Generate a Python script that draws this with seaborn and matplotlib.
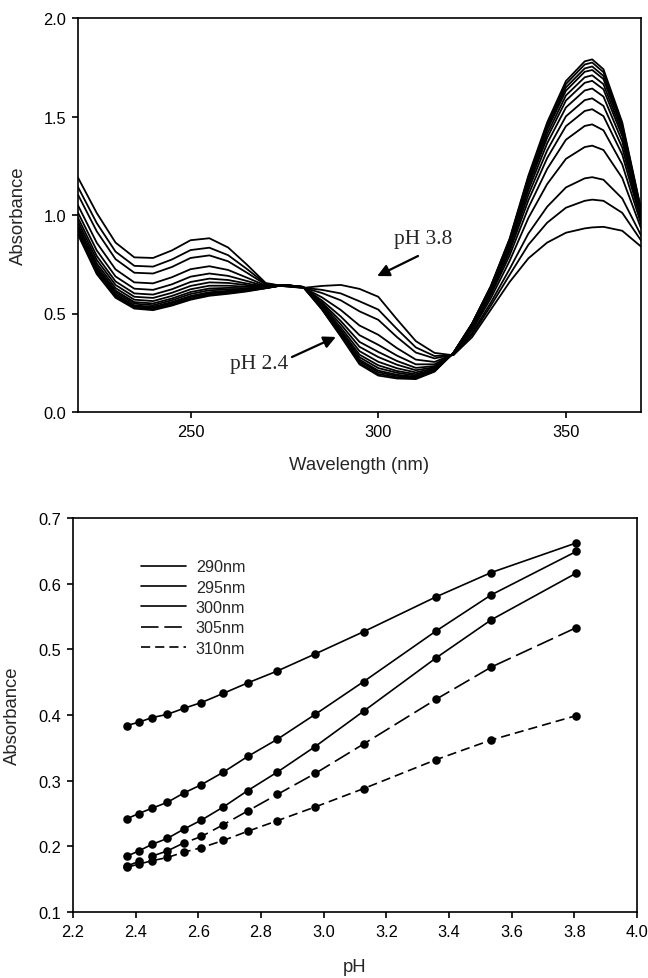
import matplotlib
matplotlib.use("Agg")
import numpy as np
import pandas as pd
import matplotlib.pyplot as plt
import seaborn as sns

# ---------------- top panel: UV spectra at different pH ----------------
wavelength = [220, 225, 230, 235, 240, 245, 250, 255, 260, 265, 270, 275, 280, 285,
              290, 295, 300, 305, 310, 315, 320, 325, 330, 335, 340, 345, 350, 355,
              357, 360, 365, 370]

spec_pH237 = [0.900, 0.700, 0.580, 0.525, 0.517, 0.540, 0.570, 0.590, 0.600, 0.612, 0.628, 0.645, 0.635, 0.520, 0.384, 0.242, 0.185, 0.170, 0.167, 0.205, 0.300, 0.450, 0.640, 0.880, 1.200, 1.470, 1.680, 1.780, 1.790, 1.740, 1.470, 1.030]
spec_pH241 = [0.906, 0.706, 0.585, 0.530, 0.522, 0.545, 0.576, 0.596, 0.604, 0.615, 0.629, 0.645, 0.635, 0.522, 0.389, 0.249, 0.193, 0.176, 0.171, 0.207, 0.300, 0.449, 0.638, 0.876, 1.192, 1.458, 1.665, 1.764, 1.774, 1.725, 1.460, 1.026]
spec_pH245 = [0.912, 0.713, 0.592, 0.536, 0.528, 0.552, 0.583, 0.602, 0.610, 0.618, 0.629, 0.645, 0.635, 0.525, 0.395, 0.258, 0.202, 0.183, 0.175, 0.209, 0.299, 0.447, 0.635, 0.871, 1.182, 1.444, 1.648, 1.744, 1.754, 1.706, 1.447, 1.022]
spec_pH250 = [0.918, 0.720, 0.598, 0.541, 0.534, 0.558, 0.589, 0.608, 0.615, 0.621, 0.630, 0.645, 0.635, 0.528, 0.400, 0.266, 0.210, 0.189, 0.179, 0.211, 0.299, 0.446, 0.632, 0.866, 1.174, 1.432, 1.631, 1.727, 1.736, 1.690, 1.435, 1.018]
spec_pH255 = [0.928, 0.729, 0.607, 0.550, 0.542, 0.567, 0.599, 0.618, 0.622, 0.625, 0.631, 0.644, 0.635, 0.531, 0.409, 0.278, 0.223, 0.199, 0.185, 0.214, 0.299, 0.443, 0.629, 0.859, 1.160, 1.412, 1.607, 1.699, 1.709, 1.664, 1.418, 1.012]
spec_pH261 = [0.937, 0.740, 0.616, 0.558, 0.551, 0.576, 0.609, 0.627, 0.630, 0.629, 0.632, 0.644, 0.634, 0.535, 0.417, 0.291, 0.237, 0.208, 0.192, 0.217, 0.298, 0.441, 0.625, 0.852, 1.146, 1.392, 1.581, 1.671, 1.681, 1.638, 1.400, 1.006]
spec_pH268 = [0.950, 0.754, 0.629, 0.570, 0.563, 0.589, 0.623, 0.641, 0.641, 0.636, 0.633, 0.644, 0.634, 0.541, 0.429, 0.309, 0.255, 0.222, 0.201, 0.222, 0.298, 0.438, 0.619, 0.842, 1.127, 1.364, 1.546, 1.632, 1.642, 1.601, 1.374, 0.997]
spec_pH276 = [0.967, 0.772, 0.645, 0.585, 0.579, 0.605, 0.640, 0.658, 0.655, 0.644, 0.634, 0.643, 0.634, 0.548, 0.445, 0.331, 0.279, 0.240, 0.212, 0.227, 0.297, 0.434, 0.612, 0.829, 1.103, 1.328, 1.501, 1.583, 1.592, 1.554, 1.342, 0.986]
spec_pH285 = [0.986, 0.792, 0.663, 0.602, 0.596, 0.623, 0.660, 0.677, 0.670, 0.652, 0.636, 0.643, 0.634, 0.556, 0.462, 0.356, 0.305, 0.259, 0.224, 0.233, 0.296, 0.429, 0.604, 0.815, 1.075, 1.289, 1.451, 1.528, 1.537, 1.502, 1.307, 0.974]
spec_pH297 = [1.012, 0.820, 0.688, 0.626, 0.620, 0.648, 0.687, 0.703, 0.691, 0.665, 0.638, 0.642, 0.633, 0.566, 0.485, 0.390, 0.341, 0.286, 0.242, 0.242, 0.295, 0.423, 0.594, 0.795, 1.037, 1.234, 1.382, 1.452, 1.460, 1.430, 1.257, 0.956]
spec_pH312 = [1.049, 0.859, 0.724, 0.658, 0.653, 0.684, 0.725, 0.740, 0.721, 0.682, 0.642, 0.641, 0.632, 0.582, 0.518, 0.439, 0.392, 0.324, 0.266, 0.254, 0.294, 0.414, 0.578, 0.767, 0.985, 1.157, 1.285, 1.345, 1.352, 1.330, 1.188, 0.933]
spec_pH336 = [1.103, 0.917, 0.776, 0.707, 0.703, 0.736, 0.782, 0.795, 0.765, 0.707, 0.647, 0.640, 0.631, 0.604, 0.567, 0.511, 0.468, 0.380, 0.302, 0.272, 0.292, 0.401, 0.556, 0.726, 0.906, 1.042, 1.140, 1.186, 1.192, 1.179, 1.084, 0.897]
spec_pH353 = [1.142, 0.959, 0.814, 0.742, 0.738, 0.774, 0.822, 0.834, 0.796, 0.726, 0.651, 0.639, 0.631, 0.620, 0.602, 0.562, 0.520, 0.421, 0.328, 0.284, 0.290, 0.392, 0.540, 0.696, 0.849, 0.961, 1.037, 1.072, 1.078, 1.072, 1.011, 0.871]
spec_pH380 = [1.190, 1.010, 0.860, 0.785, 0.782, 0.820, 0.872, 0.882, 0.835, 0.748, 0.655, 0.638, 0.630, 0.640, 0.645, 0.625, 0.585, 0.470, 0.360, 0.300, 0.288, 0.380, 0.520, 0.660, 0.780, 0.860, 0.910, 0.932, 0.937, 0.940, 0.920, 0.840]

spectra = {
    2.37: spec_pH237, 2.41: spec_pH241, 2.45: spec_pH245, 2.50: spec_pH250,
    2.55: spec_pH255, 2.61: spec_pH261, 2.68: spec_pH268, 2.76: spec_pH276,
    2.85: spec_pH285, 2.97: spec_pH297, 3.12: spec_pH312, 3.36: spec_pH336,
    3.53: spec_pH353, 3.80: spec_pH380,
}

# ---------------- bottom panel: absorbance vs pH ----------------
pH_values = [2.372, 2.410, 2.452, 2.501, 2.553, 2.610, 2.680, 2.758, 2.852, 2.973,
             3.128, 3.359, 3.535, 3.806]
abs_290 = [0.384, 0.389, 0.396, 0.401, 0.410, 0.419, 0.433, 0.449, 0.467, 0.493, 0.527, 0.580, 0.617, 0.662]
abs_295 = [0.242, 0.250, 0.258, 0.267, 0.281, 0.294, 0.313, 0.337, 0.363, 0.401, 0.451, 0.528, 0.583, 0.649]
abs_300 = [0.185, 0.193, 0.203, 0.212, 0.226, 0.240, 0.260, 0.285, 0.313, 0.352, 0.406, 0.487, 0.545, 0.616]
abs_305 = [0.170, 0.177, 0.185, 0.193, 0.205, 0.215, 0.233, 0.254, 0.279, 0.311, 0.356, 0.424, 0.473, 0.533]
abs_310 = [0.168, 0.173, 0.178, 0.183, 0.191, 0.198, 0.209, 0.223, 0.239, 0.260, 0.288, 0.332, 0.362, 0.399]
series_labels = ["290nm", "295nm", "300nm", "305nm", "310nm"]

# ---------------- styling ----------------
sns.set_style("ticks")
plt.rcParams["font.family"] = ["Liberation Sans", "DejaVu Sans"]
plt.rcParams["axes.linewidth"] = 1.2
plt.rcParams["xtick.major.width"] = 1.2
plt.rcParams["ytick.major.width"] = 1.2
plt.rcParams["xtick.major.size"] = 4.5
plt.rcParams["ytick.major.size"] = 4.5
plt.rcParams["xtick.major.pad"] = 4.5
plt.rcParams["ytick.major.pad"] = 4.0
plt.rcParams["xtick.labelsize"] = 11.8
plt.rcParams["ytick.labelsize"] = 11.8
plt.rcParams["axes.edgecolor"] = "black"
plt.rcParams["xtick.color"] = "black"
plt.rcParams["ytick.color"] = "black"
plt.rcParams["lines.solid_joinstyle"] = "round"

fig = plt.figure(figsize=(6.48, 9.79), dpi=100)
ax1 = fig.add_axes([78 / 648, 1 - 413 / 979, 563 / 648, 394 / 979])
ax2 = fig.add_axes([73 / 648, 1 - 913 / 979, 564 / 648, 394 / 979])

# top panel
rows = []
for ph, vals in spectra.items():
    for w, a in zip(wavelength, vals):
        rows.append({"Wavelength": w, "Absorbance": a, "pH": ph})
df_spec = pd.DataFrame(rows)
sns.lineplot(data=df_spec, x="Wavelength", y="Absorbance", units="pH",
             estimator=None, color="black", linewidth=1.3, sort=False,
             legend=False, ax=ax1)
ax1.set_xlim(220, 370)
ax1.set_ylim(0, 2.0)
ax1.set_xticks([250, 300, 350])
ax1.set_yticks([0.0, 0.5, 1.0, 1.5, 2.0])
ax1.yaxis.set_major_formatter(matplotlib.ticker.FormatStrFormatter("%.1f"))
ax1.set_xlabel("Wavelength (nm)", fontsize=13.3)
ax1.set_ylabel("Absorbance", fontsize=13.3)
ax1.yaxis.set_label_coords(-0.091, 0.5)
ax1.xaxis.set_label_coords(0.5, -0.112)

serif = ["Liberation Serif", "DejaVu Serif"]
ax1.annotate("", xy=(299.7, 0.690), xytext=(310.6, 0.792),
             arrowprops=dict(arrowstyle="-|>", color="black", lw=1.6,
                             mutation_scale=18, shrinkA=0, shrinkB=0))
ax1.text(304.2, 0.856, "pH 3.8", family=serif, fontsize=15.5,
         ha="left", va="baseline")
ax1.annotate("", xy=(288.7, 0.381), xytext=(277.0, 0.279),
             arrowprops=dict(arrowstyle="-|>", color="black", lw=1.6,
                             mutation_scale=18, shrinkA=0, shrinkB=0))
ax1.text(260.5, 0.224, "pH 2.4", family=serif, fontsize=15.5,
         ha="left", va="baseline")

# bottom panel
rows = []
for lab, vals in zip(series_labels, [abs_290, abs_295, abs_300, abs_305, abs_310]):
    for p, a in zip(pH_values, vals):
        rows.append({"pH": p, "Absorbance": a, "Series": lab})
df_pts = pd.DataFrame(rows)
dash_map = {"290nm": "", "295nm": "", "300nm": "",
            "305nm": (10.5, 3.5), "310nm": (5.5, 3.0)}
sns.lineplot(data=df_pts, x="pH", y="Absorbance", style="Series",
             dashes=dash_map, color="black", linewidth=1.2, estimator=None,
             sort=False, ax=ax2, legend=True)
sns.scatterplot(data=df_pts, x="pH", y="Absorbance", color="black", s=38,
                edgecolor="black", linewidth=0, zorder=5, legend=False, ax=ax2)
handles, labels = ax2.get_legend_handles_labels()
hl = [(h, l) for h, l in zip(handles, labels) if l in series_labels]
ax2.legend([h for h, _ in hl], [l for _, l in hl], loc="upper left",
           bbox_to_anchor=(0.12, 0.895), frameon=False, fontsize=11.6,
           handlelength=2.8, handletextpad=0.62, labelspacing=0.33,
           borderpad=0, borderaxespad=0)
ax2.set_xlim(2.2, 4.0)
ax2.set_ylim(0.1, 0.7)
ax2.set_xticks(np.arange(2.2, 4.01, 0.2))
ax2.set_yticks(np.arange(0.1, 0.71, 0.1))
ax2.xaxis.set_major_formatter(matplotlib.ticker.FormatStrFormatter("%.1f"))
ax2.yaxis.set_major_formatter(matplotlib.ticker.FormatStrFormatter("%.1f"))
ax2.set_xlabel("pH", fontsize=13.3)
ax2.set_ylabel("Absorbance", fontsize=13.3)
ax2.yaxis.set_label_coords(-0.092, 0.5)
ax2.xaxis.set_label_coords(0.5, -0.118)

fig.savefig("out.png", dpi=100)
